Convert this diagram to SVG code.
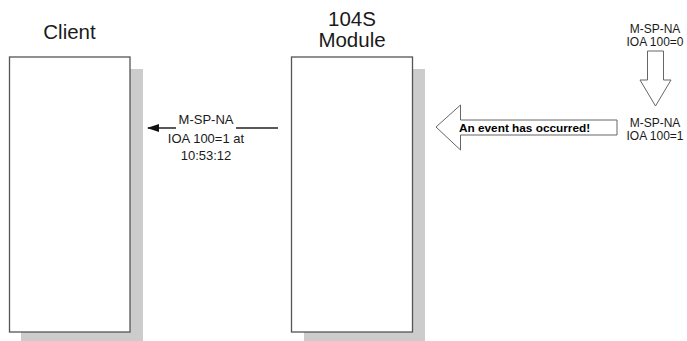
<svg xmlns="http://www.w3.org/2000/svg" width="687" height="341" viewBox="0 0 687 341">
<style>
text{font-family:"Liberation Sans",Arial,sans-serif;fill:#1a1a1a}
.t{font-size:20.5px}
.s{font-size:13px;text-anchor:middle}
.r{font-size:12px;text-anchor:middle}
.box{fill:#fff;stroke:#555;stroke-width:1.3}
.sh{fill:#cccccc}
.hol{fill:#fff;stroke:#666;stroke-width:1}
</style>
<defs>
<marker id="ah" markerWidth="12" markerHeight="8" refX="11" refY="4" orient="auto" markerUnits="userSpaceOnUse">
<path d="M0,0 L12,4 L0,8 Z" fill="#111"/>
</marker>
</defs>
<g id="client">
<rect class="sh" x="21" y="69" width="122" height="272"/>
<rect class="box" x="9.5" y="57" width="120.5" height="275"/>
<text class="t" x="69.5" y="39" text-anchor="middle">Client</text>
</g>
<g id="module">
<rect class="sh" x="304" y="69" width="121" height="272"/>
<rect class="box" x="291.5" y="57" width="121" height="275"/>
<text class="t" x="352" y="26" text-anchor="middle">104S</text>
<text class="t" x="352" y="47" text-anchor="middle">Module</text>
</g>
<g id="source">
<path class="hol" d="M647.5,51 H663.5 V80 H671 L655.5,106 L640,80 H647.5 Z"/>
<text class="r" x="655" y="33">M-SP-NA</text>
<text class="r" x="655" y="46">IOA 100=0</text>
<text class="r" x="655" y="127">M-SP-NA</text>
<text class="r" x="655" y="140">IOA 100=1</text>
</g>
<g id="event">
<path class="hol" d="M436,127 L460.5,105 V120 H617 V135 H460.5 V150 Z"/>
<text x="459" y="132" style="font-size:11.8px;font-weight:bold;fill:#000">An event has occurred!</text>
</g>
<g id="connectors">
<line x1="278" y1="128" x2="148" y2="128" stroke="#222" stroke-width="1.5" marker-end="url(#ah)"/>
<rect x="176" y="118" width="60" height="14" fill="#fff"/>
<text class="s" x="206" y="124">M-SP-NA</text>
<text class="s" x="206" y="143">IOA 100=1 at</text>
<text class="s" x="206" y="160">10:53:12</text>
</g>
</svg>
